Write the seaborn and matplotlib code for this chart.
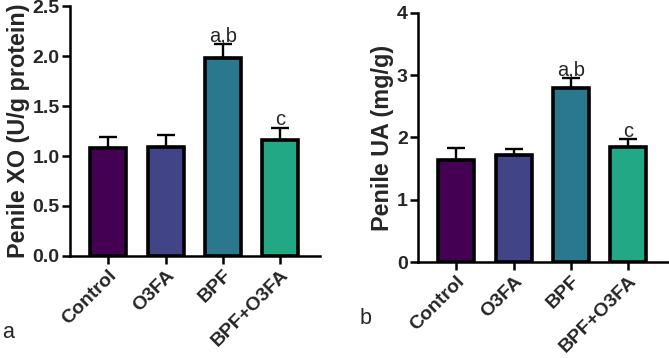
import pandas as pd
import matplotlib.pyplot as plt
import seaborn as sns

groups = ["Control", "O3FA", "BPF", "BPF+O3FA"]
colors = ["#440154", "#414487", "#2a788e", "#22a884"]

xo_mean = [1.08, 1.09, 1.98, 1.16]
xo_err = [0.11, 0.12, 0.14, 0.12]
xo_marks = ["", "", "a,b", "c"]

ua_mean = [1.64, 1.72, 2.80, 1.84]
ua_err = [0.19, 0.10, 0.15, 0.13]
ua_marks = ["", "", "a,b", "c"]

sns.set_style("ticks")
plt.rcParams["font.family"] = ["Liberation Sans", "DejaVu Sans"]

fig = plt.figure(figsize=(6.69, 3.58), dpi=100)
ax1 = fig.add_axes([0.1046, 0.285, 0.3734, 0.698])
ax2 = fig.add_axes([0.625, 0.268, 0.373, 0.696])


def draw_panel(ax, means, errs, marks, ylabel, ylim, yticks, fmt):
    df = pd.DataFrame({"group": groups, "value": means})
    sns.barplot(data=df, x="group", y="value", hue="group", palette=colors,
                order=groups, hue_order=groups, width=0.63, legend=False,
                saturation=1, edgecolor="black", linewidth=2.6, ax=ax,
                errorbar=None)
    ax.errorbar(range(len(groups)), means, yerr=[[0] * len(errs), errs],
                fmt="none", ecolor="black", elinewidth=1.7, capsize=6.5,
                capthick=1.7, zorder=1)
    for i, (m, e, t) in enumerate(zip(means, errs, marks)):
        if t:
            ax.annotate(t, (i, m + e), xytext=(0, 2), textcoords="offset points",
                        ha="center", va="baseline", fontsize=14.5)
    ax.set_xlim(-0.67, 3.69)
    ax.set_ylim(*ylim)
    ax.set_yticks(yticks)
    ax.set_yticklabels([fmt.format(v) for v in yticks])
    ax.set_xlabel("")
    ax.set_ylabel(ylabel, fontsize=16.8, fontweight="bold", labelpad=2)
    for s in ["top", "right"]:
        ax.spines[s].set_visible(False)
    for s in ["left", "bottom"]:
        ax.spines[s].set_linewidth(1.8)
        ax.spines[s].set_color("black")
    ax.tick_params(axis="both", width=1.8, length=6, color="black",
                   labelsize=14, pad=1.5)
    for lab in ax.get_yticklabels():
        lab.set_fontweight("bold")
    for lab in ax.get_xticklabels():
        lab.set_fontweight("bold")
        lab.set_rotation(45)
        lab.set_ha("right")
        lab.set_rotation_mode("anchor")


draw_panel(ax1, xo_mean, xo_err, xo_marks, "Penile XO (U/g protein)",
           (0, 2.5), [0, 0.5, 1.0, 1.5, 2.0, 2.5], "{:.1f}")
draw_panel(ax2, ua_mean, ua_err, ua_marks, "Penile UA (mg/g)",
           (0, 4), [0, 1, 2, 3, 4], "{:d}")

fig.text(0.003, 0.055, "a", fontsize=15.5)
fig.text(0.538, 0.095, "b", fontsize=15.5)

fig.savefig("out.png", dpi=100)
